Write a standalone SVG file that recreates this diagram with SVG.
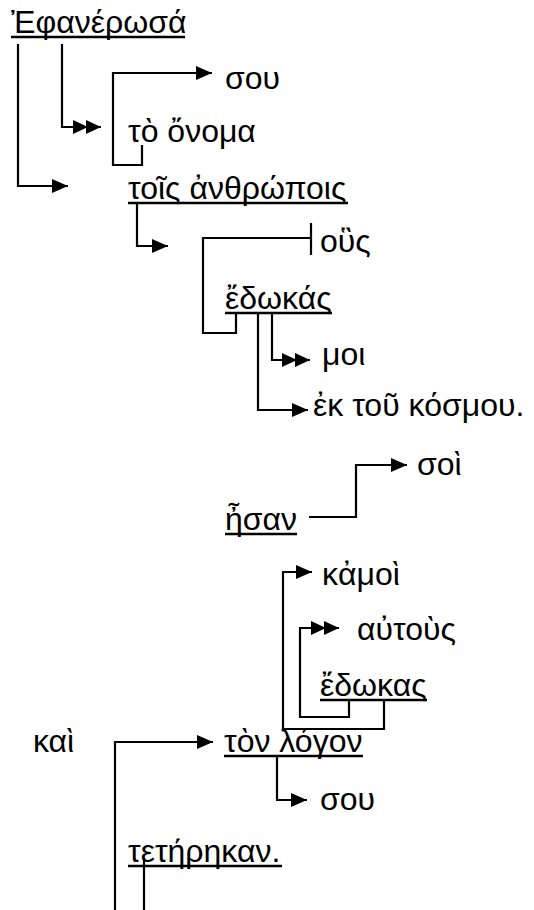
<svg xmlns="http://www.w3.org/2000/svg" width="534" height="910" viewBox="0 0 534 910">
<style>
text{font-family:"Liberation Sans",Arial,sans-serif;font-size:32px;fill:#000}
.ul{stroke:#000;stroke-width:2.5}
.c{fill:none;stroke:#000;stroke-width:2.2}
</style>
<defs>
<marker id="a" markerUnits="userSpaceOnUse" markerWidth="17" markerHeight="15" refX="16" refY="7" orient="auto"><path d="M0,0 L16,7 L0,14 z" fill="#000"/></marker>
<marker id="d" markerUnits="userSpaceOnUse" markerWidth="30" markerHeight="15" refX="28" refY="7" orient="auto"><path d="M0,0 L15,7 L0,14 z M13,0 L28,7 L13,14 z" fill="#000"/></marker>
</defs>
<rect width="534" height="910" fill="#fff"/>
<g id="connectors">
<path class="c" d="M18,44 V186 H68" marker-end="url(#a)"/>
<path class="c" d="M62,44 V127 H101" marker-end="url(#d)"/>
<path class="c" d="M142,145 V165 H113 V73 H212" marker-end="url(#a)"/>
<path class="c" d="M137,203 V246 H168" marker-end="url(#a)"/>
<path class="c" d="M236,313 V333 H203 V238 H311"/>
<path class="c" d="M311,223 V255"/>
<path class="c" d="M272,313 V360 H310" marker-end="url(#d)"/>
<path class="c" d="M258,313 V410 H308" marker-end="url(#a)"/>
<path class="c" d="M309,517 H356 V465 H407" marker-end="url(#a)"/>
<path class="c" d="M384,700 V729 H283 V572 H312" marker-end="url(#a)"/>
<path class="c" d="M349,700 V717 H300 V628 H339" marker-end="url(#d)"/>
<path class="c" d="M115,910 V742 H213" marker-end="url(#a)"/>
<path class="c" d="M144,858 V910"/>
<path class="c" d="M277,756 V800 H307" marker-end="url(#a)"/>
</g>
<g id="n1"><text x="11" y="33">Ἐφανέρωσά</text><line class="ul" x1="11" y1="37" x2="185" y2="37"/></g>
<g id="n2"><text x="225" y="89">σου</text></g>
<g id="n3"><text x="128" y="142">τὸ ὄνομα</text></g>
<g id="n4"><text x="128" y="199">τοῖς ἀνθρώποις</text><line class="ul" x1="128" y1="203" x2="348" y2="203"/></g>
<g id="n5"><text x="320" y="252">οὓς</text></g>
<g id="n6"><text x="225" y="309">ἔδωκάς</text><line class="ul" x1="225" y1="313" x2="332" y2="313"/></g>
<g id="n7"><text x="322" y="365">μοι</text></g>
<g id="n8"><text x="313" y="416">ἐκ τοῦ κόσμου.</text></g>
<g id="n9"><text x="417" y="475">σοὶ</text></g>
<g id="n10"><text x="225" y="530">ἦσαν</text><line class="ul" x1="225" y1="534" x2="297" y2="534"/></g>
<g id="n11"><text x="322" y="585">κἀμοὶ</text></g>
<g id="n12"><text x="357" y="640">αὐτοὺς</text></g>
<g id="n13"><text x="320" y="696">ἔδωκας</text><line class="ul" x1="320" y1="700" x2="427" y2="700"/></g>
<g id="n14"><text x="33" y="752">καὶ</text></g>
<g id="n15"><text x="224" y="752">τὸν λόγον</text><line class="ul" x1="224" y1="756" x2="363" y2="756"/></g>
<g id="n16"><text x="320" y="810">σου</text></g>
<g id="n17"><text x="128" y="862">τετήρηκαν.</text><line class="ul" x1="128" y1="866" x2="282" y2="866"/></g>
</svg>
